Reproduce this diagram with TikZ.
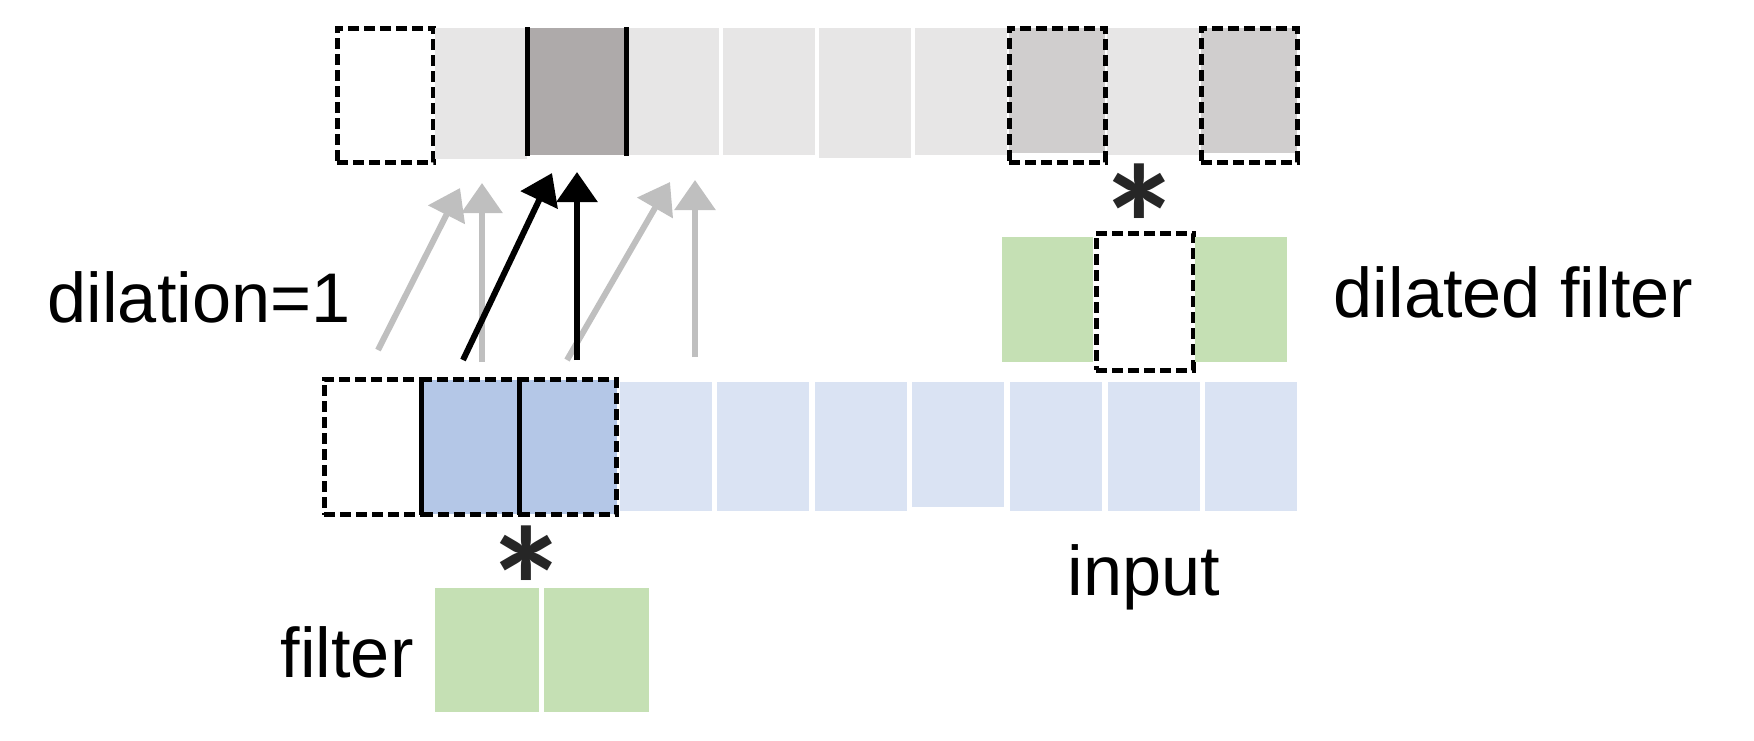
\documentclass[tikz,border=0pt]{standalone}
\usepackage{fontspec}
\setmainfont{Liberation Sans}
\newfontfamily\astfont{Carlito}
\usetikzlibrary{arrows.meta}

\definecolor{outgray}{HTML}{E7E6E6}
\definecolor{darkgray}{HTML}{AEAAAA}
\definecolor{midgray}{HTML}{D0CECE}
\definecolor{inblue}{HTML}{DAE3F3}
\definecolor{selblue}{HTML}{B4C7E7}
\definecolor{filtgreen}{HTML}{C5E0B4}
\definecolor{arrgray}{HTML}{BFBFBF}

\begin{document}
\begin{tikzpicture}[x=0.1mm,y=-0.1mm,
  cell/.style={rectangle, inner sep=0pt, minimum width=9.2mm, minimum height=12.7mm},
  dashbox/.style={rectangle, inner sep=0pt, draw=black, line width=0.5mm,
    dash pattern=on 1.1mm off 0.5mm, minimum width=9.6mm, minimum height=13.4mm},
  label/.style={anchor=base west, inner sep=0pt, font=\fontsize{20}{24}\selectfont},
  star/.style={inner sep=0pt, text=black!85, font=\astfont\bfseries\fontsize{48}{48}\selectfont},
  arr/.style={line width=0.6mm, -{Triangle[width=4mm,length=3mm]}}]
\useasboundingbox (0,0) rectangle (1754,740);

% output
\node [dashbox] (o1) at (385,95) {};
\node [cell, fill=outgray, minimum height=13.1mm] (o2) at (481,93.5) {};
\node [cell, fill=darkgray, minimum width=9.7mm] (o3) at (577,91.5) {};
\node [cell, fill=outgray] (o4) at (673,91.5) {};
\node [cell, fill=outgray] (o5) at (769,91.5) {};
\node [cell, fill=outgray, minimum height=13mm] (o6) at (865,93) {};
\node [cell, fill=outgray] (o7) at (961,91.5) {};
\node [cell, fill=midgray, minimum width=9.6mm, minimum height=12.5mm] (o8) at (1057,90.5) {};
\node [cell, fill=outgray] (o9) at (1153,91.5) {};
\node [cell, fill=midgray, minimum width=9.6mm, minimum height=12.5mm] (o10) at (1249,90.5) {};
\node [dashbox] (o8b) at (1057,95) {};
\node [dashbox] (o10b) at (1249,95) {};
\draw [line width=0.5mm] (o3.north west) -- (o3.south west);
\draw [line width=0.5mm] (o3.north east) -- (o3.south east);

% input
\node [cell, fill=selblue, minimum width=9.76mm, minimum height=13.4mm] (i2) at (470.4,447) {};
\node [cell, fill=selblue, minimum width=9.76mm, minimum height=13.4mm] (i3) at (568,447) {};
\node [cell, fill=inblue, minimum height=12.9mm] (i4) at (665.6,446.5) {};
\node [cell, fill=inblue, minimum height=12.9mm] (i5) at (763.2,446.5) {};
\node [cell, fill=inblue, minimum height=12.9mm] (i6) at (860.8,446.5) {};
\node [cell, fill=inblue, minimum height=12.5mm] (i7) at (958.4,444.5) {};
\node [cell, fill=inblue, minimum height=12.9mm] (i8) at (1056,446.5) {};
\node [cell, fill=inblue, minimum height=12.9mm] (i9) at (1153.6,446.5) {};
\node [cell, fill=inblue, minimum height=12.9mm] (i10) at (1251.2,446.5) {};
\node [dashbox, minimum width=9.76mm, minimum height=13.5mm] (i1) at (372.8,447) {};
\node [dashbox, minimum width=9.76mm, minimum height=13.5mm] (i2b) at (470.4,447) {};
\node [dashbox, minimum width=9.76mm, minimum height=13.5mm] (i3b) at (568,447) {};

% dilated filter
\node [cell, fill=filtgreen, minimum width=9.1mm, minimum height=12.5mm] (d1) at (1047.5,299.5) {};
\node [dashbox, minimum width=9.7mm, minimum height=13.7mm] (d2) at (1144.5,301.5) {};
\node [cell, fill=filtgreen, minimum width=9.2mm, minimum height=12.5mm] (d3) at (1241,299.5) {};
\node [star] (s1) at (1139,224) {*};

% filter
\node [cell, fill=filtgreen, minimum width=10.4mm, minimum height=12.4mm] (f1) at (487,650) {};
\node [cell, fill=filtgreen, minimum width=10.5mm, minimum height=12.4mm] (f2) at (596.5,650) {};
\node [star] (s2) at (527,586) {*};

% arrows
\coordinate (t1) at (378,350); \coordinate (h1) at (460,188);
\coordinate (t2) at (482,362); \coordinate (h2) at (482,183);
\coordinate (t3) at (567,360); \coordinate (h3) at (670,182);
\coordinate (t4) at (695,357); \coordinate (h4) at (695,180);
\coordinate (t5) at (463,360); \coordinate (h5) at (552,173);
\coordinate (t6) at (577,360); \coordinate (h6) at (577,172);
\draw [arr, arrgray] (t1) -- (h1);
\draw [arr, arrgray] (t2) -- (h2);
\draw [arr, arrgray] (t3) -- (h3);
\draw [arr, arrgray] (t4) -- (h4);
\draw [arr, black] (t5) -- (h5);
\draw [arr, black] (t6) -- (h6);

% labels
\node [label] (dil) at (47,322) {dilation=1};
\node [label] (dlab) at (1333,317) {dilated filter};
\node [label] (inlab) at (1067,595) {input};
\node [label] (flab) at (280,677) {filter};
\end{tikzpicture}
\end{document}
